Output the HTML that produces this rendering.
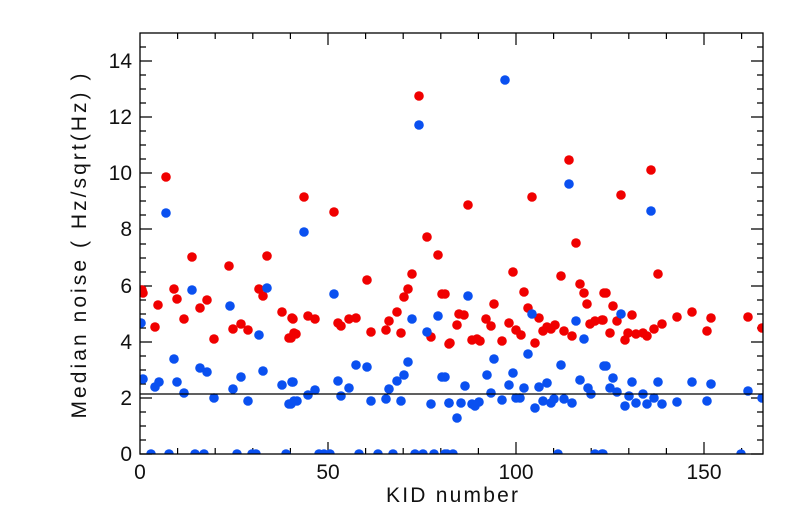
<!DOCTYPE html>
<html><head><meta charset="utf-8"><style>
html,body{margin:0;padding:0;background:#fff;}
svg{display:block;}
text{font-family:"Liberation Sans",sans-serif;font-size:21px;fill:#111;}
.r circle{fill:#f00000}
.b circle{fill:#0a50f0}
</style></head><body>
<svg width="805" height="522" viewBox="0 0 805 522" xmlns="http://www.w3.org/2000/svg">
<defs><clipPath id="c"><rect x="140" y="33" width="623" height="421"/></clipPath></defs>
<g stroke="#000" stroke-width="1.2">
<path d="M140 454h12M140 440h6M140 426h6M140 412h6M140 398h12M140 384h6M140 370h6M140 356h6M140 342h12M140 328h6M140 314h6M140 300h6M140 286h12M140 272h6M140 258h6M140 244h6M140 229h12M140 215h6M140 201h6M140 187h6M140 173h12M140 159h6M140 145h6M140 131h6M140 117h12M140 103h6M140 89h6M140 75h6M140 61h12M140 47h6"/>
<path d="M763 454h-12M763 440h-6M763 426h-6M763 412h-6M763 398h-12M763 384h-6M763 370h-6M763 356h-6M763 342h-12M763 328h-6M763 314h-6M763 300h-6M763 286h-12M763 272h-6M763 258h-6M763 244h-6M763 229h-12M763 215h-6M763 201h-6M763 187h-6M763 173h-12M763 159h-6M763 145h-6M763 131h-6M763 117h-12M763 103h-6M763 89h-6M763 75h-6M763 61h-12M763 47h-6"/>
<path d="M177.6 454v-6M215.2 454v-6M252.8 454v-6M290.4 454v-6M328 454v-12M365.6 454v-6M403.2 454v-6M440.8 454v-6M478.4 454v-6M516 454v-12M553.6 454v-6M591.2 454v-6M628.8 454v-6M666.4 454v-6M704 454v-12M741.6 454v-6"/>
<path d="M177.6 33v6M215.2 33v6M252.8 33v6M290.4 33v6M328 33v12M365.6 33v6M403.2 33v6M440.8 33v6M478.4 33v6M516 33v12M553.6 33v6M591.2 33v6M628.8 33v6M666.4 33v6M704 33v12M741.6 33v6"/>
</g>
<g clip-path="url(#c)">
<g class="r">
<circle cx="166" cy="177" r="4.8"/><circle cx="143" cy="293" r="4.8"/><circle cx="142" cy="290" r="4.8"/><circle cx="158" cy="305" r="4.8"/><circle cx="155" cy="327" r="4.8"/><circle cx="174" cy="289" r="4.8"/><circle cx="177" cy="299" r="4.8"/><circle cx="184" cy="319" r="4.8"/><circle cx="192" cy="257" r="4.8"/><circle cx="200" cy="308" r="4.8"/><circle cx="207" cy="300" r="4.8"/><circle cx="214" cy="339" r="4.8"/><circle cx="229" cy="266" r="4.8"/><circle cx="233" cy="329" r="4.8"/><circle cx="241" cy="324" r="4.8"/><circle cx="248" cy="330" r="4.8"/><circle cx="259" cy="289" r="4.8"/><circle cx="263" cy="296" r="4.8"/><circle cx="267" cy="256" r="4.8"/><circle cx="282" cy="312" r="4.8"/><circle cx="292" cy="318" r="4.8"/><circle cx="289" cy="338" r="4.8"/><circle cx="294" cy="333" r="4.8"/>
<circle cx="304" cy="197" r="4.8"/><circle cx="334" cy="212" r="4.8"/><circle cx="293" cy="319" r="4.8"/><circle cx="296" cy="334" r="4.8"/><circle cx="291" cy="338" r="4.8"/><circle cx="308" cy="316" r="4.8"/><circle cx="315" cy="319" r="4.8"/><circle cx="338" cy="323" r="4.8"/><circle cx="341" cy="326" r="4.8"/><circle cx="349" cy="319" r="4.8"/><circle cx="356" cy="318" r="4.8"/><circle cx="367" cy="280" r="4.8"/><circle cx="371" cy="332" r="4.8"/><circle cx="386" cy="330" r="4.8"/><circle cx="389" cy="321" r="4.8"/><circle cx="397" cy="312" r="4.8"/><circle cx="401" cy="333" r="4.8"/><circle cx="404" cy="297" r="4.8"/><circle cx="408" cy="289" r="4.8"/><circle cx="412" cy="274" r="4.8"/><circle cx="427" cy="237" r="4.8"/><circle cx="438" cy="255" r="4.8"/><circle cx="442" cy="294" r="4.8"/><circle cx="431" cy="337" r="4.8"/><circle cx="449" cy="344" r="4.8"/><circle cx="419" cy="96" r="4.8"/>
<circle cx="569" cy="160" r="4.8"/><circle cx="468" cy="205" r="4.8"/><circle cx="532" cy="197" r="4.8"/><circle cx="576" cy="243" r="4.8"/><circle cx="513" cy="272" r="4.8"/><circle cx="561" cy="276" r="4.8"/><circle cx="524" cy="292" r="4.8"/><circle cx="580" cy="284" r="4.8"/><circle cx="584" cy="293" r="4.8"/><circle cx="587" cy="304" r="4.8"/><circle cx="604" cy="293" r="4.8"/><circle cx="445" cy="294" r="4.8"/><circle cx="494" cy="304" r="4.8"/><circle cx="528" cy="308" r="4.8"/><circle cx="539" cy="318" r="4.8"/><circle cx="459" cy="314" r="4.8"/><circle cx="464" cy="315" r="4.8"/><circle cx="457" cy="325" r="4.8"/><circle cx="486" cy="319" r="4.8"/><circle cx="491" cy="326" r="4.8"/><circle cx="509" cy="323" r="4.8"/><circle cx="516" cy="330" r="4.8"/><circle cx="521" cy="335" r="4.8"/><circle cx="543" cy="331" r="4.8"/><circle cx="547" cy="327" r="4.8"/><circle cx="551" cy="329" r="4.8"/><circle cx="555" cy="325" r="4.8"/><circle cx="564" cy="331" r="4.8"/><circle cx="572" cy="336" r="4.8"/><circle cx="450" cy="343" r="4.8"/><circle cx="472" cy="340" r="4.8"/><circle cx="477" cy="339" r="4.8"/><circle cx="480" cy="341" r="4.8"/><circle cx="502" cy="341" r="4.8"/><circle cx="535" cy="343" r="4.8"/><circle cx="590" cy="324" r="4.8"/><circle cx="595" cy="321" r="4.8"/><circle cx="602" cy="320" r="4.8"/>
<circle cx="651" cy="170" r="4.8"/><circle cx="621" cy="195" r="4.8"/><circle cx="658" cy="274" r="4.8"/><circle cx="606" cy="293" r="4.8"/><circle cx="613" cy="306" r="4.8"/><circle cx="603" cy="320" r="4.8"/><circle cx="617" cy="321" r="4.8"/><circle cx="632" cy="315" r="4.8"/><circle cx="610" cy="333" r="4.8"/><circle cx="625" cy="340" r="4.8"/><circle cx="628" cy="333" r="4.8"/><circle cx="636" cy="334" r="4.8"/><circle cx="643" cy="333" r="4.8"/><circle cx="647" cy="336" r="4.8"/><circle cx="654" cy="329" r="4.8"/><circle cx="662" cy="324" r="4.8"/><circle cx="677" cy="317" r="4.8"/><circle cx="692" cy="312" r="4.8"/><circle cx="711" cy="318" r="4.8"/><circle cx="707" cy="331" r="4.8"/><circle cx="748" cy="317" r="4.8"/><circle cx="762" cy="328" r="4.8"/>
</g>
<g class="b">
<circle cx="166" cy="213" r="4.8"/><circle cx="141" cy="323" r="4.8"/><circle cx="192" cy="290" r="4.8"/><circle cx="230" cy="306" r="4.8"/><circle cx="259" cy="335" r="4.8"/><circle cx="267" cy="288" r="4.8"/><circle cx="174" cy="359" r="4.8"/><circle cx="143" cy="379" r="4.8"/><circle cx="155" cy="387" r="4.8"/><circle cx="159" cy="382" r="4.8"/><circle cx="177" cy="382" r="4.8"/><circle cx="184" cy="393" r="4.8"/><circle cx="200" cy="368" r="4.8"/><circle cx="207" cy="372" r="4.8"/><circle cx="214" cy="398" r="4.8"/><circle cx="233" cy="389" r="4.8"/><circle cx="241" cy="377" r="4.8"/><circle cx="248" cy="401" r="4.8"/><circle cx="263" cy="371" r="4.8"/><circle cx="282" cy="385" r="4.8"/><circle cx="292" cy="382" r="4.8"/><circle cx="289" cy="404" r="4.8"/><circle cx="294" cy="401" r="4.8"/>
<circle cx="304" cy="232" r="4.8"/><circle cx="334" cy="294" r="4.8"/><circle cx="412" cy="319" r="4.8"/><circle cx="427" cy="332" r="4.8"/><circle cx="438" cy="316" r="4.8"/><circle cx="293" cy="382" r="4.8"/><circle cx="297" cy="401" r="4.8"/><circle cx="291" cy="404" r="4.8"/><circle cx="308" cy="395" r="4.8"/><circle cx="315" cy="390" r="4.8"/><circle cx="338" cy="381" r="4.8"/><circle cx="341" cy="396" r="4.8"/><circle cx="349" cy="388" r="4.8"/><circle cx="356" cy="365" r="4.8"/><circle cx="367" cy="367" r="4.8"/><circle cx="371" cy="401" r="4.8"/><circle cx="386" cy="399" r="4.8"/><circle cx="389" cy="389" r="4.8"/><circle cx="397" cy="381" r="4.8"/><circle cx="401" cy="401" r="4.8"/><circle cx="404" cy="375" r="4.8"/><circle cx="408" cy="362" r="4.8"/><circle cx="431" cy="404" r="4.8"/><circle cx="442" cy="377" r="4.8"/><circle cx="449" cy="403" r="4.8"/><circle cx="419" cy="125" r="4.8"/><circle cx="505" cy="80" r="4.8"/>
<circle cx="569" cy="184" r="4.8"/><circle cx="468" cy="296" r="4.8"/><circle cx="532" cy="314" r="4.8"/><circle cx="576" cy="321" r="4.8"/><circle cx="584" cy="339" r="4.8"/><circle cx="528" cy="354" r="4.8"/><circle cx="494" cy="359" r="4.8"/><circle cx="561" cy="365" r="4.8"/><circle cx="604" cy="366" r="4.8"/><circle cx="445" cy="377" r="4.8"/><circle cx="487" cy="375" r="4.8"/><circle cx="513" cy="373" r="4.8"/><circle cx="465" cy="386" r="4.8"/><circle cx="509" cy="385" r="4.8"/><circle cx="524" cy="388" r="4.8"/><circle cx="539" cy="387" r="4.8"/><circle cx="547" cy="383" r="4.8"/><circle cx="580" cy="380" r="4.8"/><circle cx="588" cy="388" r="4.8"/><circle cx="591" cy="394" r="4.8"/><circle cx="491" cy="393" r="4.8"/><circle cx="449" cy="403" r="4.8"/><circle cx="461" cy="403" r="4.8"/><circle cx="472" cy="404" r="4.8"/><circle cx="475" cy="406" r="4.8"/><circle cx="479" cy="402" r="4.8"/><circle cx="502" cy="400" r="4.8"/><circle cx="516" cy="398" r="4.8"/><circle cx="520" cy="398" r="4.8"/><circle cx="535" cy="408" r="4.8"/><circle cx="543" cy="401" r="4.8"/><circle cx="551" cy="403" r="4.8"/><circle cx="554" cy="399" r="4.8"/><circle cx="564" cy="399" r="4.8"/><circle cx="572" cy="403" r="4.8"/><circle cx="457" cy="418" r="4.8"/>
<circle cx="651" cy="211" r="4.8"/><circle cx="621" cy="314" r="4.8"/><circle cx="606" cy="366" r="4.8"/><circle cx="613" cy="378" r="4.8"/><circle cx="610" cy="388" r="4.8"/><circle cx="617" cy="392" r="4.8"/><circle cx="632" cy="382" r="4.8"/><circle cx="629" cy="396" r="4.8"/><circle cx="625" cy="406" r="4.8"/><circle cx="636" cy="403" r="4.8"/><circle cx="643" cy="394" r="4.8"/><circle cx="647" cy="404" r="4.8"/><circle cx="654" cy="398" r="4.8"/><circle cx="662" cy="404" r="4.8"/><circle cx="658" cy="382" r="4.8"/><circle cx="677" cy="402" r="4.8"/><circle cx="692" cy="382" r="4.8"/><circle cx="707" cy="401" r="4.8"/><circle cx="711" cy="384" r="4.8"/><circle cx="748" cy="391" r="4.8"/><circle cx="762" cy="398" r="4.8"/>
<circle cx="151" cy="454" r="4.8"/><circle cx="169" cy="454" r="4.8"/><circle cx="195" cy="454" r="4.8"/><circle cx="204" cy="454" r="4.8"/><circle cx="237" cy="454" r="4.8"/><circle cx="252" cy="454" r="4.8"/><circle cx="256" cy="454" r="4.8"/><circle cx="286" cy="454" r="4.8"/><circle cx="319" cy="454" r="4.8"/><circle cx="324" cy="454" r="4.8"/><circle cx="330" cy="454" r="4.8"/><circle cx="359" cy="454" r="4.8"/><circle cx="378" cy="454" r="4.8"/><circle cx="393" cy="454" r="4.8"/><circle cx="415" cy="454" r="4.8"/><circle cx="423" cy="454" r="4.8"/><circle cx="434" cy="454" r="4.8"/><circle cx="445" cy="454" r="4.8"/><circle cx="447" cy="454" r="4.8"/><circle cx="453" cy="454" r="4.8"/><circle cx="558" cy="454" r="4.8"/><circle cx="595" cy="454" r="4.8"/><circle cx="602" cy="454" r="4.8"/><circle cx="603" cy="454" r="4.8"/><circle cx="741" cy="454" r="4.8"/>
</g>
</g>
<line x1="140" y1="394" x2="763" y2="394" stroke="#000" stroke-width="1.3"/>
<rect x="140" y="33" width="623" height="421" fill="none" stroke="#000" stroke-width="1.3"/>
<g text-anchor="end">
<text x="132" y="461">0</text><text x="132" y="405">2</text><text x="132" y="349">4</text>
<text x="132" y="293">6</text><text x="132" y="236">8</text><text x="132" y="180">10</text>
<text x="132" y="124">12</text><text x="132" y="68">14</text>
</g>
<g text-anchor="middle">
<text x="140" y="479">0</text><text x="328" y="479">50</text><text x="516" y="479">100</text><text x="704" y="479">150</text>
<text x="452" y="502" textLength="132" lengthAdjust="spacing">KID number</text>
<text x="0" y="0" transform="translate(86,246) rotate(-90)" textLength="345" lengthAdjust="spacing">Median noise ( Hz/sqrt(Hz) )</text>
</g>
</svg>
</body></html>
